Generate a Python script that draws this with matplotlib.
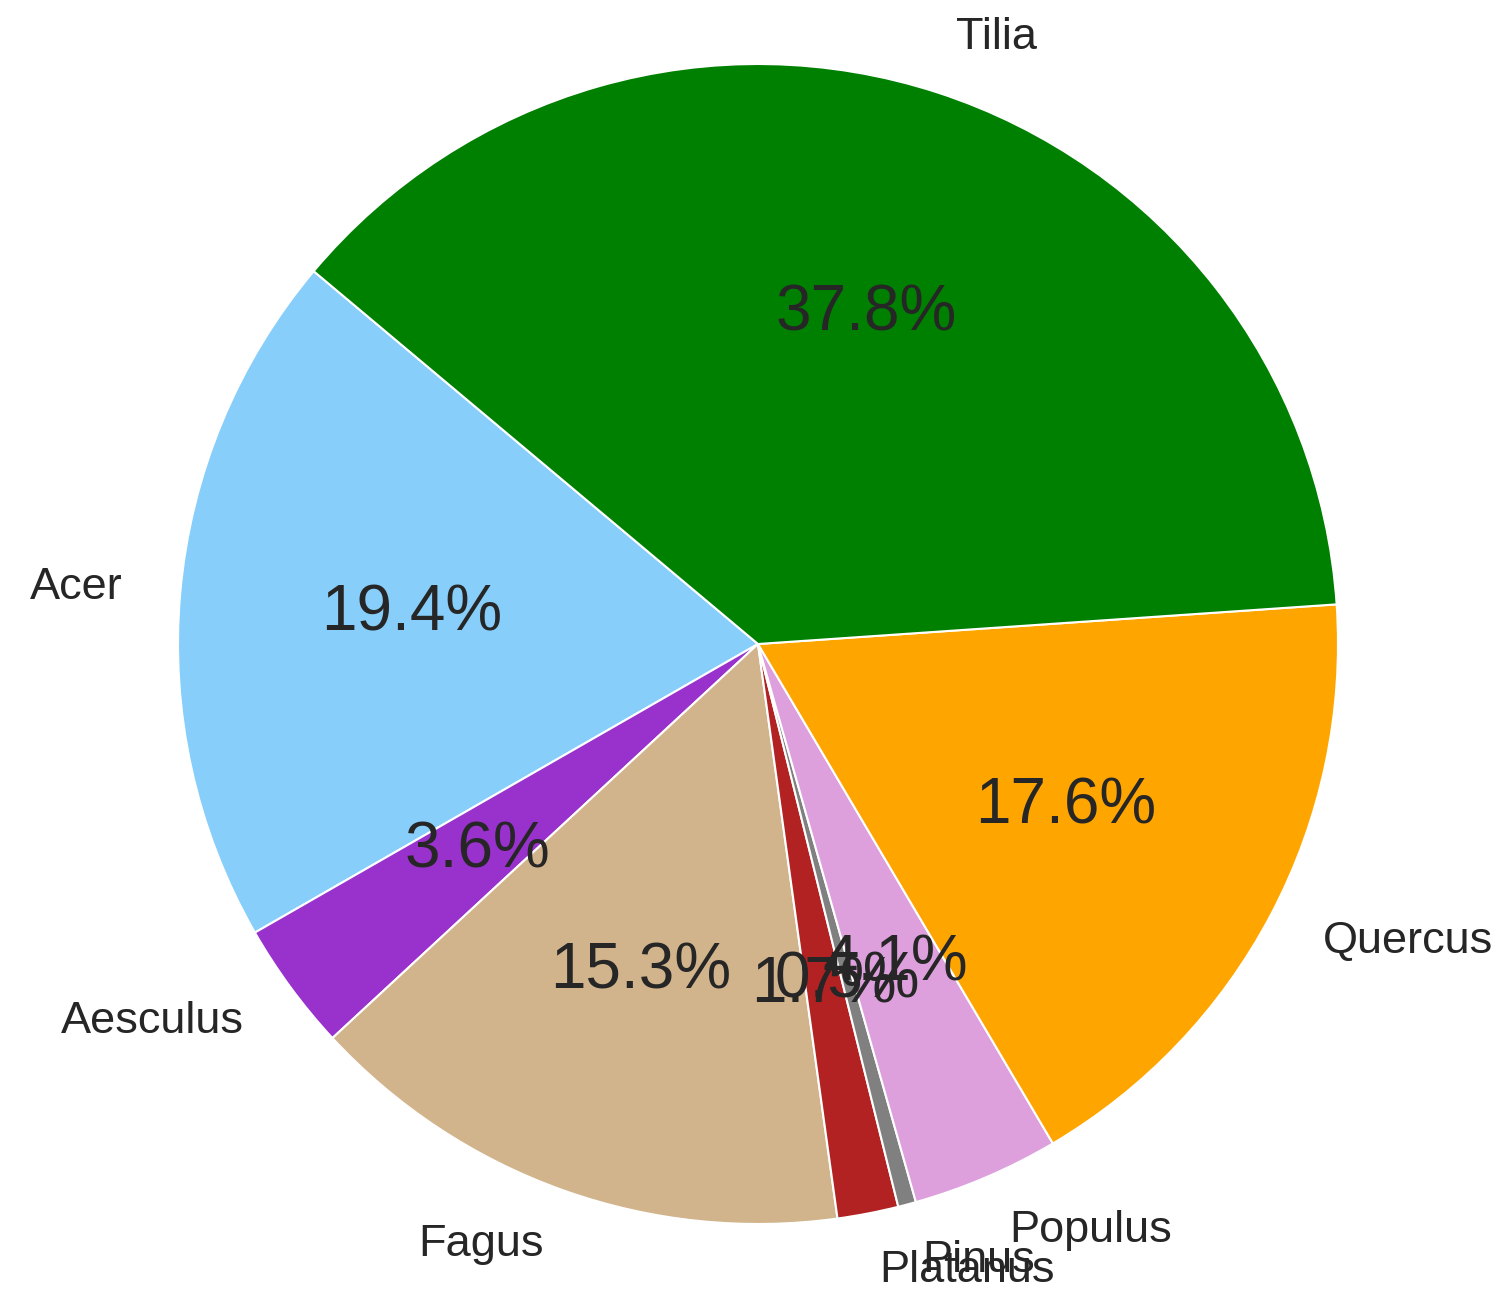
import matplotlib.pyplot as plt

labels = ['Acer', 'Aesculus', 'Fagus', 'Platanus', 'Pinus', 'Populus', 'Quercus', 'Tilia']
shares = [19.4, 3.6, 15.3, 1.7, 0.5, 4.1, 17.6, 37.8]
colors = ['lightskyblue', 'darkorchid', 'tan', 'firebrick', 'grey', 'plum', 'orange', 'green']

plt.rcParams['font.family'] = ['Liberation Sans', 'DejaVu Sans']
plt.rcParams['text.color'] = '.15'

fig = plt.figure(figsize=(15.02, 13.03), dpi=100)
ax = fig.add_axes([0, 0, 1, 1])

wedges, texts, autotexts = ax.pie(
    shares, labels=labels, colors=colors, autopct='%1.1f%%',
    startangle=140, wedgeprops={'edgecolor': 'white', 'linewidth': 1.5},
    textprops={'fontsize': 32.5},
)
for t in autotexts:
    t.set_fontsize(46)

# map one data unit to ~580 px, pie centre at (758, 644) px
r = 580.0
ax.set_aspect('auto')
ax.set_xlim(-758 / r, (1502 - 758) / r)
ax.set_ylim(-(1303 - 644) / r, 644 / r)
ax.axis('off')

fig.savefig('out.png', dpi=100)
